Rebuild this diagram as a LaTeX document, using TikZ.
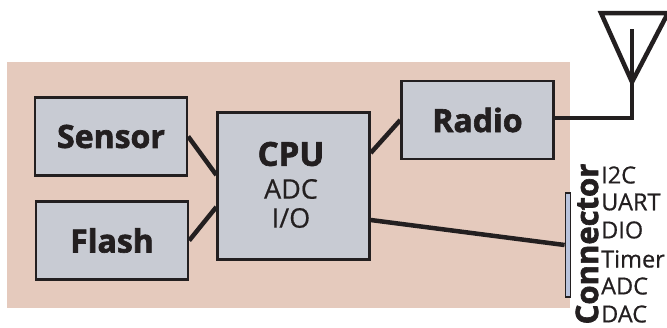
\documentclass[tikz,border=0pt]{standalone}
\usepackage{fontspec}
\setmainfont{Open Sans}[BoldFeatures={FakeBold=2}]
\newfontfamily\midfont{Open Sans}[FakeBold=0.6]
\definecolor{bgpink}{HTML}{E5CABD}
\definecolor{boxgray}{HTML}{C8CBD3}
\definecolor{barblue}{HTML}{B9C3DC}
\definecolor{inkdark}{HTML}{231F20}
\tikzset{
  block/.style={draw=inkdark,line width=2.4pt,fill=boxgray,inner sep=0pt,text=inkdark,align=center},
  wire/.style={draw=inkdark,line width=4.5pt},
  sig/.style={font=\midfont\fontsize{23.5}{23.5}\selectfont,text=inkdark,anchor=west,inner sep=0pt},
  title/.style={font=\fontsize{32}{32}\selectfont\bfseries}
}
\begin{document}
\begin{tikzpicture}[x=1pt,y=-1pt]
\useasboundingbox (0,0) rectangle (667,327);
\fill[bgpink] (7,62) rectangle (570,308);
\node[block,title,minimum width=152pt,minimum height=78pt] (sensor) at (111,136.5) {Sensor};
\node[block,title,minimum width=152pt,minimum height=78pt] (flash) at (112,240.5) {Flash};
\node[block,minimum width=152pt,minimum height=147pt] (cpu) at (293.5,186) {};
\node[inner sep=0pt,font=\fontsize{33}{33}\selectfont\bfseries,text=inkdark] (cputxt) at (291,154) {CPU};
\node[inner sep=0pt,font=\midfont\fontsize{27}{27}\selectfont,text=inkdark] (adc) at (291,189) {ADC};
\node[inner sep=0pt,font=\midfont\fontsize{27}{27}\selectfont,text=inkdark] (io) at (291,218) {I/O};
\node[block,title,minimum width=152pt,minimum height=78pt] (radio) at (477.5,120) {Radio};
\node[draw=inkdark,line width=1.8pt,fill=barblue,inner sep=0pt,minimum width=5pt,minimum height=104pt] (bar) at (568,245) {};
\draw[wire] (sensor.east) -- ([yshift=11pt]cpu.west);
\draw[wire] (flash.east) -- ([yshift=-21pt]cpu.west);
\draw[wire] ([yshift=33pt]cpu.east) -- (radio.west);
\draw[wire] ([yshift=-34pt]cpu.east) -- (bar.west);
% antenna
\coordinate (apex) at (632,82);
\coordinate (tl) at (601,13);
\coordinate (tr) at (668,13);
\coordinate (mast) at (632,29);
\coordinate (elbow) at (632,118);
\draw[draw=inkdark,line width=4.5pt,miter limit=10] (apex) -- (tl) -- (tr) -- cycle;
\draw[wire] (mast) -- (elbow) -- ([yshift=2pt]radio.east);
% connector labels
\node[rotate=90,inner sep=0pt,font=\fontsize{31}{31}\selectfont\bfseries,text=inkdark] (conn) at (587,244) {Connector};
\node[sig] (s1) at (601,175) {I2C};
\node[sig] (s2) at (601,202) {UART};
\node[sig] (s3) at (601,230) {DIO};
\node[sig] (s4) at (601,259) {Timer};
\node[sig] (s5) at (601,286) {ADC};
\node[sig] (s6) at (601,314) {DAC};
\end{tikzpicture}
\end{document}
